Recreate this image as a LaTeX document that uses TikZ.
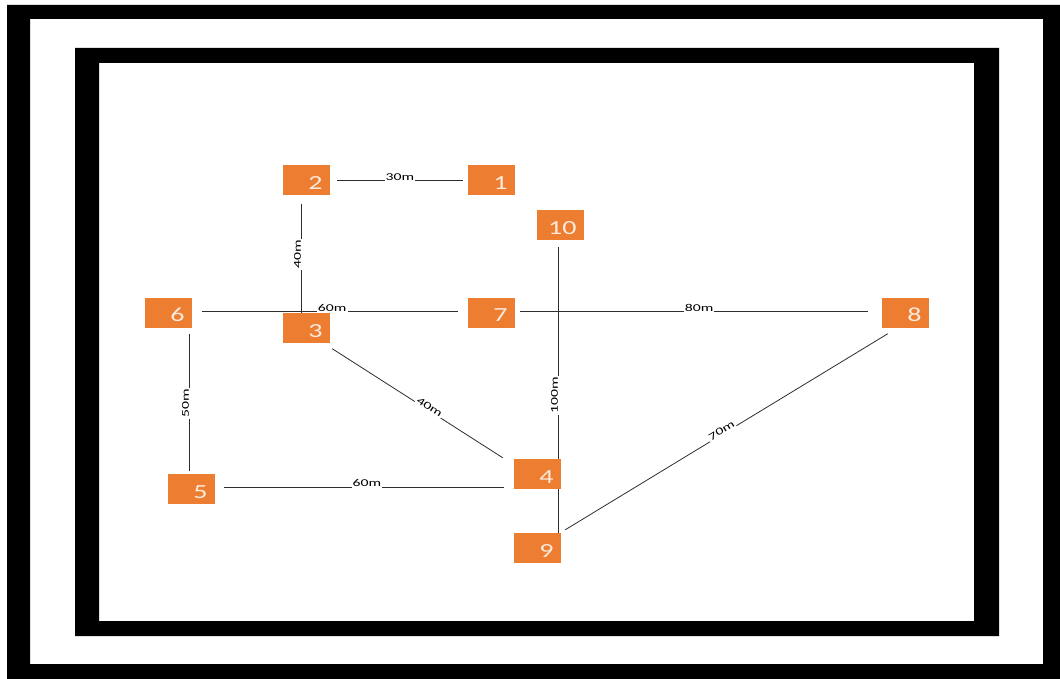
\documentclass[tikz,border=0pt]{standalone}
\usepackage{fontspec}
\newfontfamily\boxfont[FakeStretch=1.4]{Carlito}
\newfontfamily\labfont[FakeStretch=1.5]{Carlito}
\usetikzlibrary{backgrounds}
\definecolor{boxorange}{HTML}{ED7D31}
\definecolor{boxtext}{HTML}{FCEBDD}
\definecolor{edgecol}{HTML}{2E2E2E}
\begin{document}
\begin{tikzpicture}[x=1pt,y=-1pt,
  netbox/.style={fill=boxorange, text=boxtext, minimum width=47pt, minimum height=30pt,
    text width=33pt, align=right, inner xsep=7pt, inner ysep=0pt,
    text height=18pt, text depth=0pt,
    font=\boxfont\fontsize{20}{20}\selectfont},
  edge/.style={draw=edgecol, line width=0.8pt},
  lab/.style={fill=white, text=black, inner xsep=1pt, inner ysep=1.5pt, outer sep=-1.5pt,
    anchor=south, font=\labfont\fontsize{10.5}{11}\selectfont},
  hlab/.style={lab},
  vlab/.style={lab, rotate=90},
  slab/.style={lab, sloped}]
\useasboundingbox (0,0) rectangle (1060,679);
\begin{pgfonlayer}{background}
  \fill[white] (0,0) rectangle (1060,679);
  \fill[black, even odd rule] (7,5) rectangle (1060,679) (30,19) rectangle (1043,664);
  \fill[black, even odd rule] (75,48) rectangle (999,636) (99,63) rectangle (974,621);
\end{pgfonlayer}
\node[netbox] (n1) at (491,180.5) {1};
\node[netbox] (n2) at (306,180.5) {2};
\node[netbox] (n3) at (306,328) {3};
\node[netbox] (n7) at (491,312.5) {7};
\node[netbox] (n6) at (168,312.5) {6};
\node[netbox] (n5) at (191,489) {5};
\node[netbox] (n4) at (537,474) {4};
\node[netbox] (n9) at (537,548) {9};
\node[netbox] (n10) at (560,225) {10};
\node[netbox] (n8) at (905,312.5) {8};
\begin{pgfonlayer}{background}
  \draw[edge, shorten <=7.5pt, shorten >=4.5pt] (n2.east) -- node[hlab, pos=0.51]{30m} (n1.west);
  \draw[edge, shorten <=8pt] ([xshift=-5pt]n2.south) -- node[vlab, pos=0.5]{40m} ([xshift=-5pt]n2.south |- n3.north);
  \draw[edge, shorten <=10pt, shorten >=9.5pt] ([yshift=1pt]n6.east) -- node[hlab, pos=0.51]{60m} ([yshift=1pt]n7.west);
  \draw[edge, shorten <=5.5pt, shorten >=13.5pt] ([yshift=1pt]n7.east) -- node[hlab, pos=0.503]{80m} ([yshift=1pt]n8.west);
  \draw[edge, shorten <=7pt] ([xshift=-2pt]n10.south) -- node[vlab, pos=0.71]{100m} ([xshift=-2pt]n10.south |- n4.north);
  \draw[edge] ([xshift=21pt]n4.south) -- ([xshift=21pt]n9.north);
  \draw[edge] ([shift={(2.5pt,-5.5pt)}]n3.south east) -- node[slab, pos=0.56]{40m} ([shift={(-10.5pt,1pt)}]n4.north west);
  \draw[edge, shorten <=6pt, shorten >=3pt] ([xshift=21pt]n6.south) -- node[vlab, pos=0.52]{50m} ([xshift=21pt]n6.south |- n5.north);
  \draw[edge, shorten <=9.5pt, shorten >=9.5pt] ([yshift=2pt]n5.east) -- node[hlab, pos=0.51]{60m} ([yshift=2pt]n5.east -| n4.west);
  \draw[edge] ([shift={(4.5pt,3pt)}]n9.north east) -- node[slab, pos=0.49]{70m} ([shift={(6.5pt,-6pt)}]n8.south west);
\end{pgfonlayer}
\end{tikzpicture}
\end{document}
